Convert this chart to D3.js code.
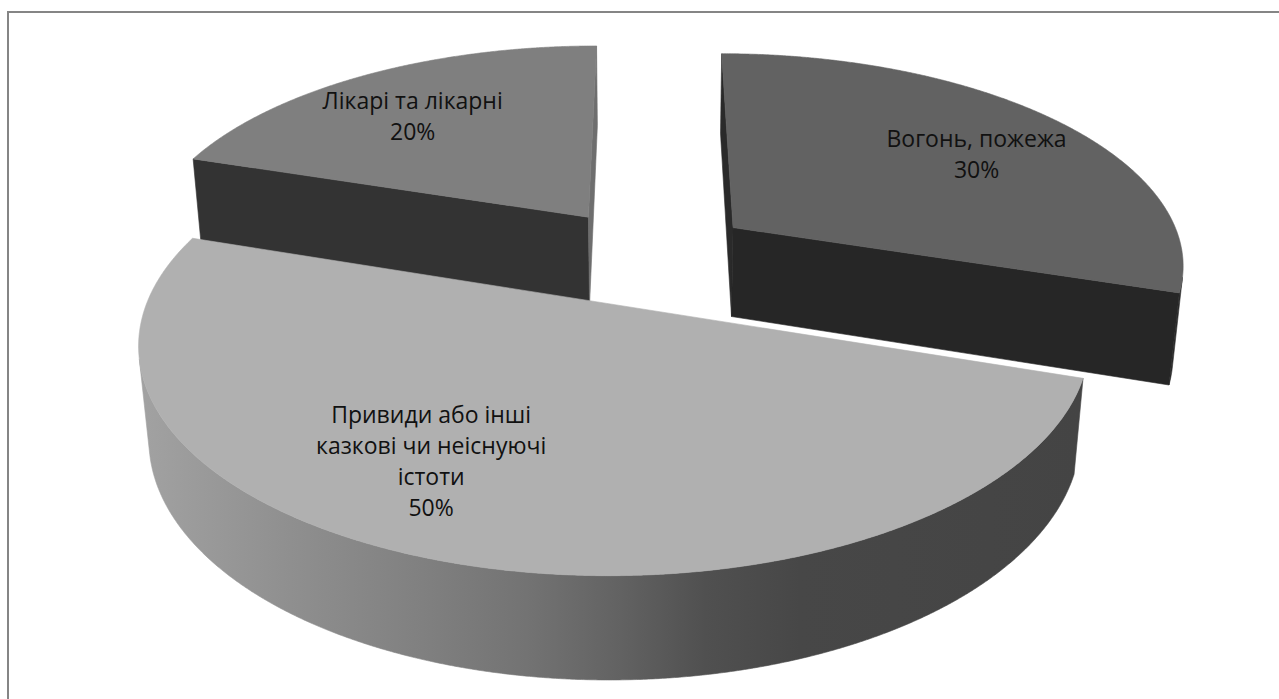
<!DOCTYPE html>
<html>
<head>
<meta charset="utf-8">
<script src="https://cdn.jsdelivr.net/npm/d3@7"></script>
<style>
  html, body { margin: 0; padding: 0; background: #fff; }
  svg { display: block; }
</style>
</head>
<body>
<svg id="chart" width="1279" height="699"></svg>
<script>
// Survey answers: what children are afraid of
const categories = ["Вогонь, пожежа", "Привиди або інші казкові чи неіснуючі істоти", "Лікарі та лікарні"];
const values = [30, 50, 20];

// Per-slice fills: top face, start radial face, end radial face, outer rim
const topFill   = ["#626262", "#b0b0b0", "#7f7f7f"];
const startFill = ["#2a2a2a", "#555555", "#333333"];
const endFill   = ["#262626", "#555555", "#6e6e6e"];
const rimFill   = ["#2b2b2b", "url(#rimShade)", "#333333"];
// Shading along the front rim of the large slice (offset, colour)
const rimStops = [[0, "#a2a2a2"], [0.16, "#8f8f8f"], [0.3, "#808080"], [0.41, "#737373"],
                  [0.51, "#626262"], [0.6, "#505050"], [0.7, "#474747"], [1, "#444444"]];

// Camera / solid setup (unit pie radius)
const view = { cx: 649, cy: 256, scale: 452, tilt: 27.7 * Math.PI / 180, dist: 5.53 };
const solid = { thickness: 0.23, explode: 0.235, labelR: 0.71 };
const labelTurn = [3, 11, -3]; // degrees, nudges label anchors inside each slice

const svg = d3.select("#chart");
const ca = Math.cos(view.tilt), sa = Math.sin(view.tilt);
const cam = [0, view.dist * sa, -view.dist * ca];
const radius = d3.scaleLinear().domain([0, 1]).range([0, 1]);

function project(X, Y, Z) {
  const yv = Y * ca + Z * sa;
  const zv = Z * ca - Y * sa;
  const w = 1 + zv / view.dist;
  return [view.cx + view.scale * X / w, view.cy - view.scale * yv / w];
}

// frame
svg.append("rect")
  .attr("x", 8).attr("y", 12).attr("width", 1400).attr("height", 900)
  .attr("fill", "none").attr("stroke", "#858585").attr("stroke-width", 2);

const defs = svg.append("defs");

const rows = categories.map((c, i) => ({ name: c, value: values[i], idx: i }));
const total = d3.sum(values);
const arcs = d3.pie().sort(null).value(d => d.value).startAngle(0).endAngle(2 * Math.PI)(rows);

const line = d3.line();
const poly = pts => line(pts) + "Z";
const step = Math.PI / 720;

const slices = arcs.map(a => {
  const a0 = a.startAngle, a1 = a.endAngle, mid = (a0 + a1) / 2;
  const ox = solid.explode * Math.sin(mid), oz = solid.explode * Math.cos(mid);
  const pt = (r, phi, Y) => project(ox + radius(r) * Math.sin(phi), Y, oz + radius(r) * Math.cos(phi));
  const n = Math.max(2, Math.ceil((a1 - a0) / step));
  const angles = d3.range(n + 1).map(k => a0 + (a1 - a0) * k / n);
  return { a, a0, a1, mid, ox, oz, pt, angles, i: a.data.idx };
});

// far slices first
slices.sort((p, q) => q.oz - p.oz);

const g = svg.append("g");
const Hh = -solid.thickness;

slices.forEach(s => {
  const { pt, angles, ox, oz, a0, a1, i } = s;
  const sg = g.append("g");
  const apex = [ox, 0, oz];
  const faces = [];

  // outer rim: keep only the parts that face the camera
  const vis = angles.map(phi => {
    const px = ox + Math.sin(phi), pz = oz + Math.cos(phi);
    return Math.sin(phi) * (cam[0] - px) + Math.cos(phi) * (cam[2] - pz) > 0;
  });
  let runs = [], cur = null;
  angles.forEach((phi, k) => {
    if (vis[k]) { if (!cur) { cur = []; runs.push(cur); } cur.push(phi); }
    else cur = null;
  });
  runs.filter(r => r.length > 1).forEach(r => {
    const topArc = r.map(phi => pt(1, phi, 0));
    const botArc = r.slice().reverse().map(phi => pt(1, phi, Hh));
    faces.push({ pts: topArc.concat(botArc), fill: rimFill[i], rim: true });
  });

  // radial faces
  const nStart = [-Math.cos(a0), 0, Math.sin(a0)];
  const nEnd = [Math.cos(a1), 0, -Math.sin(a1)];
  const facing = nrm => nrm[0] * (cam[0] - apex[0]) + nrm[2] * (cam[2] - apex[2]) > 0;
  if (facing(nStart)) faces.push({ pts: [pt(0, a0, 0), pt(1, a0, 0), pt(1, a0, Hh), pt(0, a0, Hh)], fill: startFill[i] });
  if (facing(nEnd)) faces.push({ pts: [pt(0, a1, 0), pt(0, a1, Hh), pt(1, a1, Hh), pt(1, a1, 0)], fill: endFill[i] });

  // top
  faces.push({ pts: [pt(0, a0, 0)].concat(angles.map(phi => pt(1, phi, 0))), fill: topFill[i] });

  faces.forEach(f => {
    if (f.rim && f.fill.startsWith("url")) {
      const xs = f.pts.map(p => p[0]);
      const grad = defs.append("linearGradient").attr("id", "rimShade")
        .attr("gradientUnits", "userSpaceOnUse")
        .attr("x1", d3.min(xs)).attr("x2", d3.max(xs)).attr("y1", 0).attr("y2", 0);
      grad.selectAll("stop").data(rimStops).join("stop")
        .attr("offset", d => d[0]).attr("stop-color", d => d[1]);
    }
    sg.append("path").attr("d", poly(f.pts))
      .attr("fill", f.fill).attr("stroke", f.fill)
      .attr("stroke-width", 0.6).attr("stroke-linejoin", "round");
  });
});

// labels
const fontSize = 23, lineH = 31, capH = 16;
const measure = svg.append("text").attr("font-family", "'Open Sans', sans-serif")
  .attr("font-size", fontSize).attr("visibility", "hidden");
function wrap(text, maxW) {
  const words = text.split(" ");
  const out = [];
  let lineStr = "";
  words.forEach(w => {
    const trial = lineStr ? lineStr + " " + w : w;
    measure.text(trial);
    if (lineStr && measure.node().getComputedTextLength() > maxW) { out.push(lineStr); lineStr = w; }
    else lineStr = trial;
  });
  if (lineStr) out.push(lineStr);
  return out;
}
const pct = d3.format(".0%");

const labels = svg.append("g").attr("font-family", "'Open Sans', sans-serif")
  .attr("font-size", fontSize).attr("fill", "#111").attr("text-anchor", "middle");

slices.forEach(s => {
  const i = s.i;
  const ang = s.mid + labelTurn[i] * Math.PI / 180;
  const [lx, ly] = s.pt(solid.labelR, ang, 0);
  const lines = wrap(categories[i], 250).concat([pct(values[i] / total)]);
  const t = labels.append("text");
  lines.forEach((L, k) => {
    t.append("tspan").attr("x", lx)
      .attr("y", ly + capH / 2 + (k - (lines.length - 1) / 2) * lineH)
      .text(L);
  });
});
measure.remove();
</script>
</body>
</html>
